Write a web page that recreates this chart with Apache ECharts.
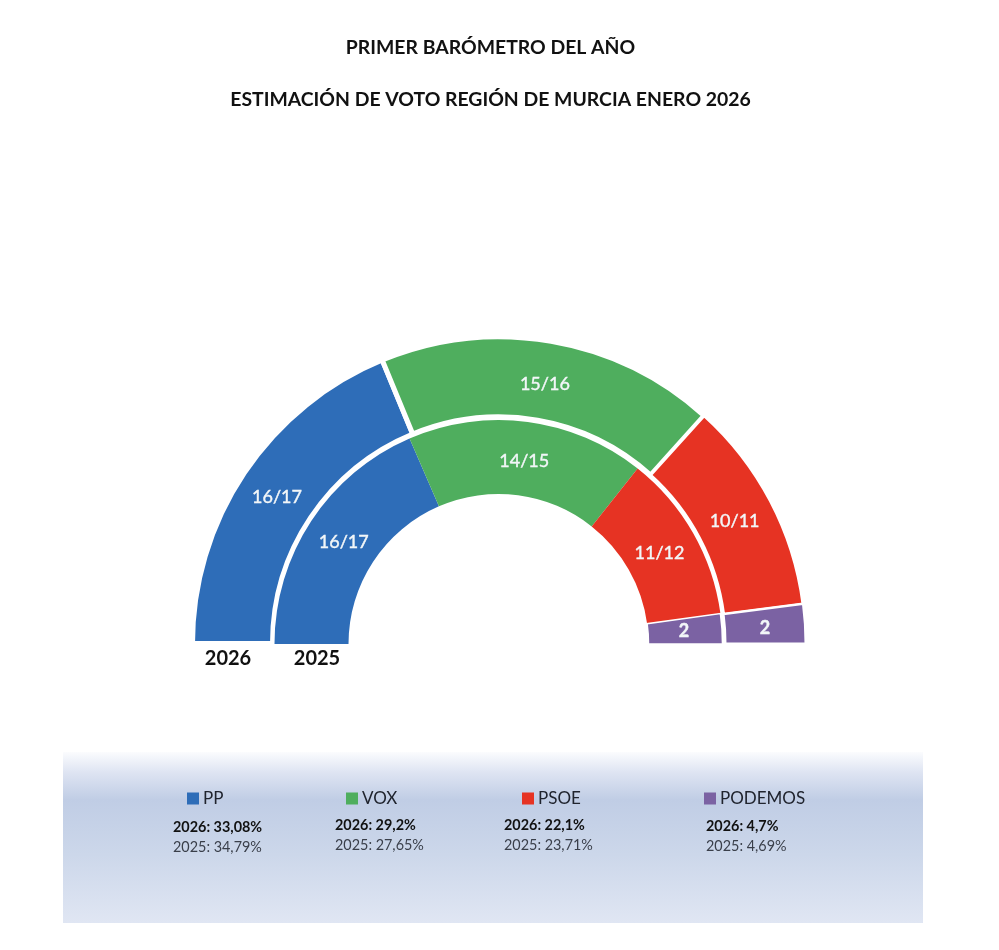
<!DOCTYPE html>
<html>
<head>
<meta charset="utf-8">
<title>Estimación de voto Región de Murcia</title>
<script src="https://cdn.jsdelivr.net/npm/echarts@6/dist/echarts.min.js"></script>
<style>
    html, body { margin: 0; padding: 0; background: #ffffff; }
    #chart { width: 999px; height: 950px; }
</style>
</head>
<body>
<div id="chart"></div>
<script>
// data
const parties = ["PP", "VOX", "PSOE", "PODEMOS"];
// share of the half circle taken by each party, in degrees
const arc2026 = [67.6, 64.4, 40.6, 7.4];
const arc2025 = [66.6, 61.8, 43.8, 7.8];
const seats2026 = ["16/17", "15/16", "10/11", "2"];
const seats2025 = ["16/17", "14/15", "11/12", "2"];
const vote2026 = ["2026: 33,08%", "2026: 29,2%", "2026: 22,1%", "2026: 4,7%"];
const vote2025 = ["2025: 34,79%", "2025: 27,65%", "2025: 23,71%", "2025: 4,69%"];
const titleLines = ["PRIMER BARÓMETRO DEL AÑO", "ESTIMACIÓN DE VOTO REGIÓN DE MURCIA ENERO 2026"];
const yearLabels = ["2026", "2025"];

const colors = ["#2E6DB8", "#4FAE5E", "#E63323", "#7B62A3"];
const fontName = "Lato";

// layout
const outerBorders = [5, 5, 3, 2];
const innerBorders = [0, 0, 0, 1.5];
const outerLabelShift = [[2, 4], [0, 6], [-3, 3], [-3, 2]];
const innerLabelShift = [[4, 3], [1, 6], [-4, 3], [-4, 0]];
const legendLeft = [187, 346, 522, 704];
const voteLeft = [173, 335, 504, 706];
const voteTop2026 = [827, 825, 825, 826];
const titleCenterY = [48, 100];
const yearCenterX = [228, 317];

function ringData(values, seats, borders) {
    return values.map(function (value, i) {
        return {
            name: parties[i],
            value: value,
            label: { formatter: seats[i], fontWeight: seats[i].length === 1 ? "bold" : "normal" },
            itemStyle: { color: colors[i], borderColor: "#ffffff", borderWidth: borders[i], borderJoin: "miter" }
        };
    });
}

function ring(name, center, radius, data, shifts) {
    return {
        type: "pie",
        name: name,
        center: center,
        radius: radius,
        startAngle: 180,
        endAngle: 360,
        clockwise: true,
        avoidLabelOverlap: false,
        silent: true,
        label: {
            show: true, position: "inside", color: "#F2F6F8", fontFamily: fontName, fontSize: 18,
            textBorderColor: "#F2F6F8", textBorderWidth: 0.4
        },
        labelLayout: function (params) {
            return { dx: shifts[params.dataIndex][0], dy: shifts[params.dataIndex][1] };
        },
        labelLine: { show: false },
        data: data
    };
}

function textItem(text, x, y, size, weight, color, align) {
    return {
        type: "text",
        x: x,
        y: y,
        z: 5,
        style: { text: text, fill: color, fontFamily: fontName, fontSize: size, fontWeight: weight, align: align, verticalAlign: "middle" }
    };
}

let graphics = [{
    type: "rect",
    z: 1,
    shape: { x: 63, y: 752, width: 860, height: 171 },
    style: {
        fill: new echarts.graphic.LinearGradient(0, 0, 0, 1, [
            { offset: 0, color: "#FBFCFE" },
            { offset: 0.12, color: "#DEE4F2" },
            { offset: 0.28, color: "#C0CDE5" },
            { offset: 0.6, color: "#CCD7EA" },
            { offset: 1, color: "#E0E6F3" }
        ])
    }
}];

titleLines.forEach(function (line, i) {
    graphics.push(textItem(line, 490.5, titleCenterY[i], 19.4, "bold", "#111111", "center"));
});
yearLabels.forEach(function (year, i) {
    graphics.push(textItem(year, yearCenterX[i], 659, 20, "bold", "#111111", "center"));
});
parties.forEach(function (party, i) {
    graphics.push(textItem(vote2026[i], voteLeft[i], voteTop2026[i], 14.4, "bold", "#111111", "left"));
    graphics.push(textItem(vote2025[i], voteLeft[i], voteTop2026[i] + 20, 14.4, "normal", "#3A3F4A", "left"));
});

let option = {
    animation: false,
    backgroundColor: "#ffffff",
    legend: parties.map(function (party, i) {
        return {
            data: [party],
            left: legendLeft[i],
            top: 790,
            padding: 0,
            icon: "rect",
            itemWidth: 12,
            itemHeight: 12,
            itemGap: 5,
            selectedMode: false,
            itemStyle: { borderWidth: 0 },
            textStyle: { color: "#20242E", fontFamily: fontName, fontSize: 17, padding: [0, 0, 0, -1] }
        };
    }),
    graphic: graphics,
    series: [
        ring("2026", [499, 643.4], [226.5, 306.5], ringData(arc2026, seats2026, outerBorders), outerLabelShift),
        ring("2025", [498.5, 644], [150, 224], ringData(arc2025, seats2025, innerBorders), innerLabelShift)
    ]
};

let myChart = echarts.init(document.getElementById("chart"), null, { renderer: "canvas" });
myChart.setOption(option);
</script>
</body>
</html>
